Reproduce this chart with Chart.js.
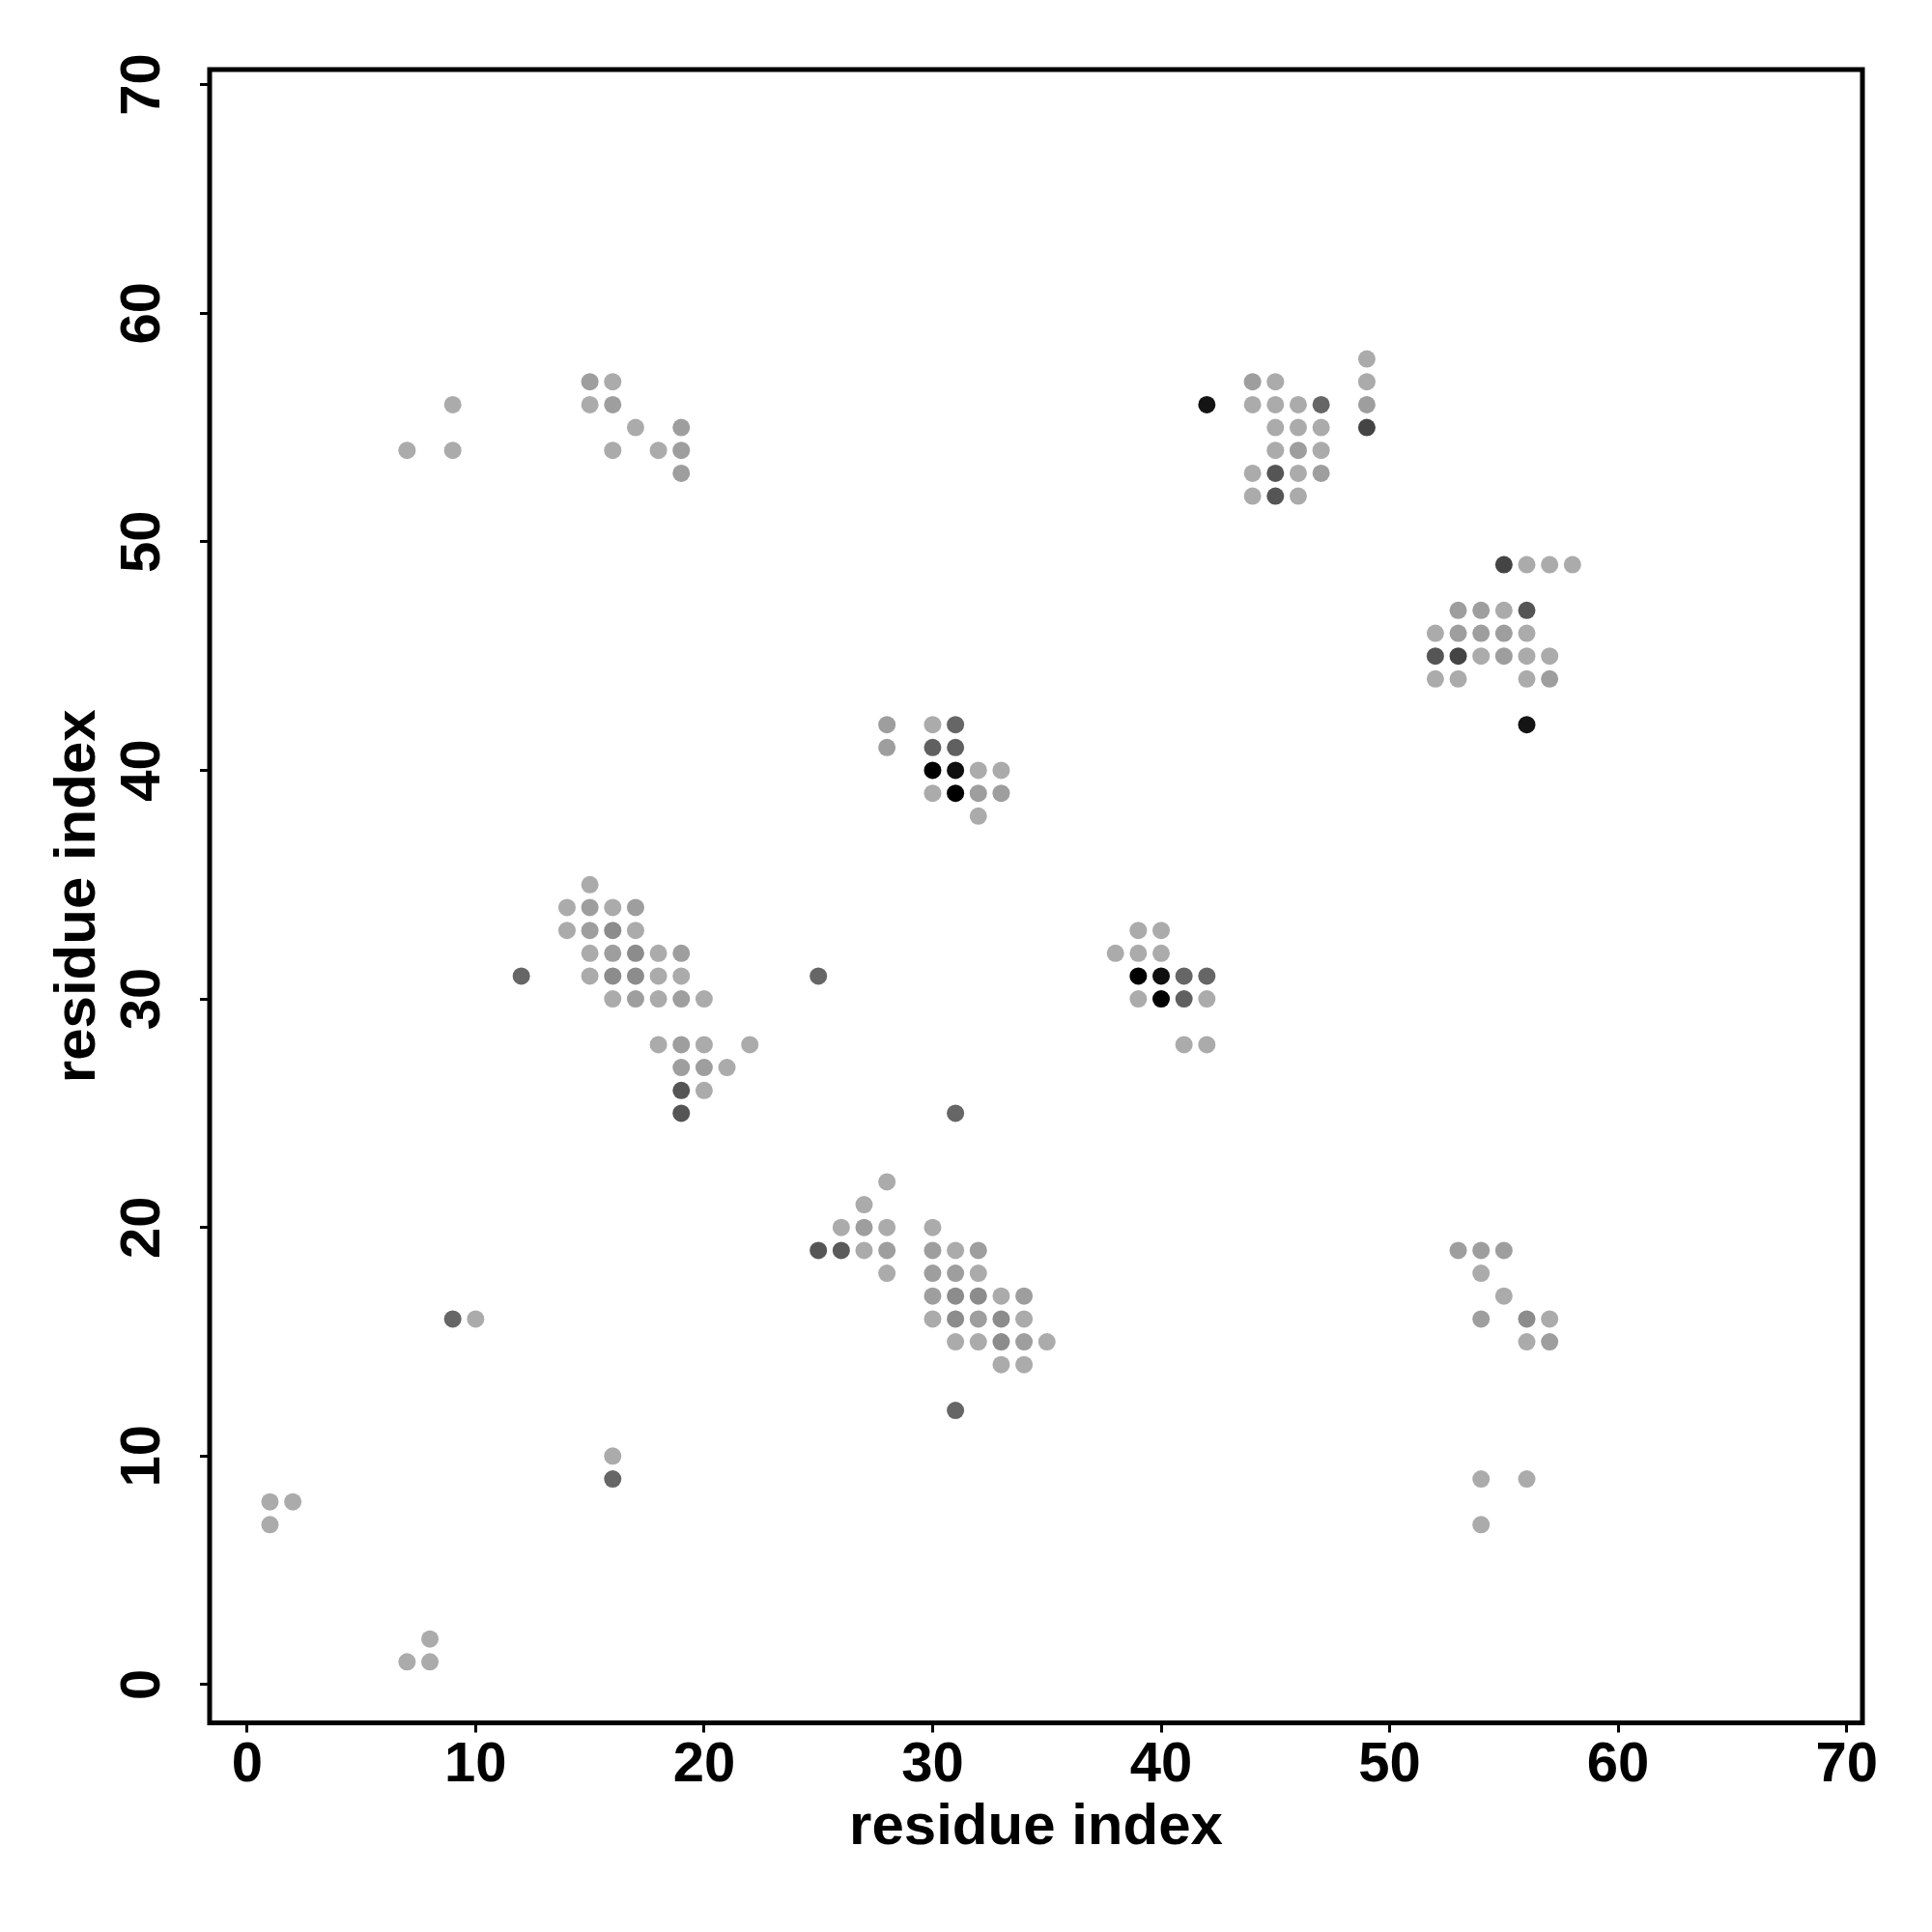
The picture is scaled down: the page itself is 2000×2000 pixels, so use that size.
<!DOCTYPE html>
<html>
<head>
<meta charset="utf-8">
<script src="https://cdn.jsdelivr.net/npm/chart.js@4/dist/chart.umd.min.js"></script>
<style>
  html, body { margin: 0; padding: 0; background: #ffffff; }
  #wrap { width: 2000px; height: 2000px; }
</style>
</head>
<body>
<div id="wrap"><canvas id="c" width="2000" height="2000"></canvas></div>
<script>
// Contact points: residue index (x), residue index (y), grey level (0 = black, 171 = light grey)
const xs = [
  1,2,1, 7,8,8, 9,10, 16,16,
  7,9,9, 15,16,15,16,17,19,16,18,19,19,
  42, 44,45, 44,45,46,47, 45,46,47, 45,46,47, 44,45,46,47, 44,45,46, 49,49,49,49,
  55,56,57,58, 53,54,55,56, 52,53,54,55,56, 52,53,54,55,56,57, 52,53,56,57, 56,
  28,28, 30,31, 30,31, 30,31,32,33, 30,31,32,33, 32,
  15, 14,15,16,17, 14,15,16,17, 15,16,17,18,19, 12,15,16,17,18,19, 16,17,18,19,20, 18,19,20,22, 19,20,21, 19,20, 19,
  25, 31, 31,
  39,40, 38,39,40, 39,40,41,42, 39,40,41,42, 41,42,
  28, 27, 26,27,28,30, 25,26,27,28,30,31,32, 28,30,31,32, 30,31,32,33,34, 30,31,32,33,34, 31,32,33,34,35, 33,34,
  53,54,55, 54, 55, 54,56,57, 56,57, 54,56, 54
];
const ys = [
  8,8,7, 1,1,2, 16,16, 10,9,
  54,56,54, 57,57,56,56,55,55,54,54,54,53,
  56, 57,57, 56,56,56,56, 55,55,55, 54,54,54, 53,53,53,53, 52,52,52, 58,57,56,55,
  49,49,49,49, 47,47,47,47, 46,46,46,46,46, 45,45,45,45,45,45, 44,44,44,44, 42,
  42,41, 42,42, 41,41, 40,40,40,40, 39,39,39,39, 38,
  35, 34,34,34,34, 33,33,33,33, 32,32,32,32,32, 31,31,31,31,31,31, 30,30,30,30,30, 28,28,28,28, 27,27,27, 26,26, 25,
  31, 25, 12,
  33,33, 32,32,32, 31,31,31,31, 30,30,30,30, 28,28,
  22, 21, 20,20,20,20, 19,19,19,19,19,19,19, 18,18,18,18, 17,17,17,17,17, 16,16,16,16,16, 15,15,15,15,15, 14,14,
  19,19,19, 18, 17, 16,16,16, 15,15, 9,9, 7
];
const greys = [
  171,171,171, 171,171,171, 102,171, 171,102,
  171,171,171, 158,171,171,158,171,158,171,171,158,158,
  20, 158,171, 171,171,171,102, 171,171,171, 171,158,171, 171,85,171,158, 171,85,171, 171,171,158,68,
  68,171,171,171, 158,158,171,85, 171,158,158,158,171, 85,68,171,158,171,171, 171,171,171,158, 20,
  158,158, 171,102, 96,96, 0,15,171,171, 171,0,158,158, 171,
  171, 171,158,171,158, 171,158,140,171, 171,158,140,171,158, 102,171,140,140,171,171, 171,158,171,158,171, 171,158,171,171, 158,158,171, 85,171, 85,
  102, 102, 102,
  171,171, 171,171,171, 0,15,102,102, 171,0,96,171, 171,171,
  171, 171, 171,158,171,171, 85,90,171,158,158,171,158, 171,158,158,171, 158,140,140,171,158, 171,140,158,140,171, 171,171,140,158,171, 171,171,
  158,158,158, 171, 171, 158,140,171, 171,158, 171,171, 171
];

const xTickValues = [0, 10, 20, 30, 40, 50, 60, 70];
const yTickValues = [0, 10, 20, 30, 40, 50, 60, 70];
const xTitle = 'residue index';
const yTitle = 'residue index';

const points = xs.map((x, i) => ({ x: x, y: ys[i] }));
const colors = greys.map(g => `rgb(${g},${g},${g})`);

const FONT = '"Liberation Sans", Arial, Helvetica, sans-serif';

const framePlugin = {
  id: 'frame',
  afterDraw(chart) {
    const a = chart.chartArea;
    const ctx = chart.ctx;
    ctx.save();
    ctx.strokeStyle = '#000';
    ctx.lineWidth = 5;
    ctx.strokeRect(a.left, a.top, a.right - a.left, a.bottom - a.top);
    ctx.restore();
  }
};

new Chart(document.getElementById('c'), {
  type: 'scatter',
  data: {
    datasets: [{
      data: points,
      pointBackgroundColor: colors,
      pointBorderWidth: 0,
      pointBorderColor: 'rgba(0,0,0,0)',
      pointRadius: 9,
      pointHoverRadius: 9
    }]
  },
  options: {
    responsive: false,
    animation: false,
    devicePixelRatio: 1,
    layout: { padding: { left: 0, right: 72, top: 72, bottom: 0 } },
    plugins: {
      legend: { display: false },
      tooltip: { enabled: false }
    },
    scales: {
      x: {
        type: 'linear',
        min: -1.64,
        max: 70.69,
        afterBuildTicks(scale) { scale.ticks = xTickValues.map(v => ({ value: v })); },
        afterFit(scale) { scale.height = 216.5; },
        border: { display: false },
        grid: { display: true, drawOnChartArea: false, drawTicks: true, tickLength: 10, color: '#000', lineWidth: 3 },
        ticks: {
          includeBounds: false,
          padding: 0,
          color: '#000',
          maxRotation: 0,
          font: { family: FONT, size: 58, weight: 'bold' }
        },
        title: {
          display: true,
          text: xTitle,
          color: '#000',
          font: { family: FONT, size: 60, weight: 'bold', lineHeight: 1.2 },
          padding: { top: 0, bottom: 72 }
        }
      },
      y: {
        type: 'linear',
        min: -1.67,
        max: 70.66,
        afterBuildTicks(scale) { scale.ticks = yTickValues.map(v => ({ value: v })); },
        afterFit(scale) { scale.width = 217; },
        border: { display: false },
        grid: { display: true, drawOnChartArea: false, drawTicks: true, tickLength: 10, color: '#000', lineWidth: 3 },
        ticks: {
          includeBounds: false,
          padding: 26,
          color: '#000',
          minRotation: 90,
          maxRotation: 90,
          crossAlign: 'center',
          font: { family: FONT, size: 58, weight: 'bold' }
        },
        title: {
          display: true,
          text: yTitle,
          color: '#000',
          font: { family: FONT, size: 60, weight: 'bold', lineHeight: 1.2 },
          padding: { top: 45, bottom: 0 }
        }
      }
    }
  },
  plugins: [framePlugin]
});
</script>
</body>
</html>
